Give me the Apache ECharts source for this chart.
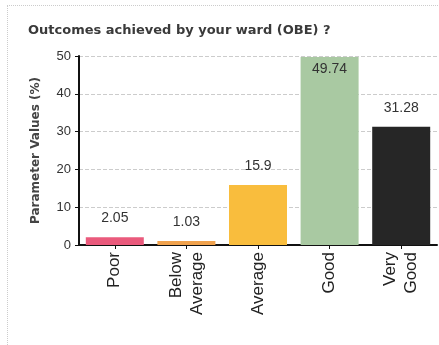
<!DOCTYPE html>
<html>
<head>
<meta charset="utf-8">
<script src="https://cdn.jsdelivr.net/npm/echarts@6/dist/echarts.min.js"></script>
<style>
  html, body { margin: 0; padding: 0; background: #fff; }
  #frame { position: absolute; left: 7px; top: 5px; width: 440px; height: 345px;
           border-left: 1px dotted #ccc; border-top: 1px dotted #ccc; }
  #chart { position: absolute; left: 0; top: 0; width: 439px; height: 345px; }
</style>
</head>
<body>
<div id="frame"></div>
<div id="chart"></div>
<script>
// Survey outcome shares, in percent
const categories = ['Poor', 'Below\nAverage', 'Average', 'Good', 'Very\nGood'];
const values = [2.05, 1.03, 15.9, 49.74, 31.28];
const barColors = ['#ea5a7c', '#f0a24e', '#f9bd3d', '#a9c9a2', '#262626'];
const yTicks = [0, 10, 20, 30, 40, 50];

const chart = echarts.init(document.getElementById('chart'), null, { renderer: 'canvas' });

chart.setOption({
  animation: false,
  title: {
    text: 'Outcomes achieved by your ward (OBE) ?',
    left: 23, top: 19,
    textStyle: { fontFamily: 'DejaVu Sans', fontSize: 13, fontWeight: 'bold', color: '#3a3a3a' }
  },
  grid: { left: 79, top: 56, width: 358, height: 189 },
  xAxis: {
    type: 'category',
    data: categories,
    axisLine: { lineStyle: { color: '#111', width: 2 } },
    axisTick: { show: true, alignWithLabel: true, length: 4, lineStyle: { color: '#111' } },
    axisLabel: {
      rotate: 90, interval: 0, margin: 7,
      fontFamily: 'Liberation Sans', fontSize: 17, color: '#222', lineHeight: 21
    }
  },
  yAxis: {
    type: 'value',
    min: yTicks[0], max: yTicks[yTicks.length - 1], interval: 10,
    name: 'Parameter Values (%)',
    nameLocation: 'middle', nameGap: 37, nameRotate: 90,
    nameTextStyle: { fontFamily: 'DejaVu Sans', fontSize: 12, fontWeight: 'bold', color: '#444' },
    axisLine: { show: true, lineStyle: { color: '#111', width: 2 } },
    axisTick: { show: true, length: 4, lineStyle: { color: '#111' } },
    axisLabel: { fontFamily: 'Liberation Sans', fontSize: 13, color: '#333', margin: 8 },
    splitLine: { lineStyle: { color: '#ccc', type: 'dashed' } }
  },
  series: [{
    type: 'bar',
    barCategoryGap: '19%',
    data: values.map((v, i) => ({
      value: v,
      itemStyle: { color: barColors[i] },
      label: i === 3 ? { position: 'insideTop', distance: 5 } : {}
    })),
    label: {
      show: true, position: 'top', distance: 12,
      fontFamily: 'Liberation Sans', fontSize: 14, color: '#333'
    }
  }]
});
</script>
</body>
</html>
